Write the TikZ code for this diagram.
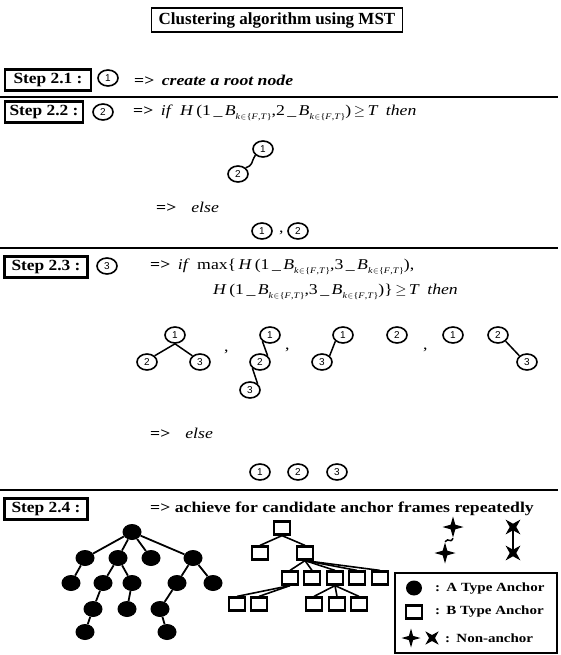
\documentclass[tikz,border=0pt]{standalone}
\usepackage{fontspec}
\setmainfont{Liberation Serif}
\setsansfont{Liberation Sans}
\usetikzlibrary{shapes.geometric}

% widened type, as in the printed figure
\newcommand{\wide}{\addfontfeature{FakeStretch=1.18}}
% B with its k in {F,T} subscript
\newcommand{\Bkft}{\textit{B}\raisebox{-0.6ex}{\fontsize{8.5}{9}\selectfont\textit{k}\kern0.4pt$\in$\kern0.4pt\{\textit{F}\kern0.3pt,\textit{T}\}}}

\begin{document}
\begin{tikzpicture}[x=1pt,y=-1pt,
  titlebox/.style={draw, line width=1.6pt, inner xsep=7pt, minimum height=24pt,
    font=\fontsize{17}{19}\selectfont\bfseries},
  stepbox/.style={draw, line width=2.3pt, minimum height=21pt, minimum width=83pt, inner xsep=3pt,
    font=\fontsize{15.5}{17}\selectfont\bfseries\addfontfeature{FakeStretch=1.12}},
  cnum/.style={ellipse, draw, line width=1.6pt, minimum width=20pt, minimum height=16pt,
    inner sep=0pt, font=\sffamily\fontsize{10}{10}\selectfont},
  say/.style={anchor=west, inner sep=0pt, font=\fontsize{15}{17}\selectfont\wide},
  sep/.style={line width=1.7pt},
  link/.style={line width=1.5pt},
  anchA/.style={ellipse, fill=black, minimum width=19pt, minimum height=16pt, inner sep=0pt},
  anchB/.style={rectangle, draw, line width=2.2pt, minimum width=16pt, minimum height=13pt, inner sep=0pt},
  nonA/.style={star, star points=4, star point ratio=3.2, fill=black, minimum size=21pt, inner sep=0pt},
  nonX/.style={nonA, shape border rotate=45},
  legtext/.style={anchor=west, inner sep=0pt, font=\fontsize{12.5}{14}\selectfont\bfseries\addfontfeature{FakeStretch=1.2}}
]
\useasboundingbox (0,0) rectangle (560,655);

% heading
\node[titlebox] (title) at (277,20) {Clustering algorithm using MST};

% separating rules
\coordinate (l1a) at (0,97);  \coordinate (l1b) at (558,97);
\coordinate (l2a) at (0,248); \coordinate (l2b) at (558,248);
\coordinate (l3a) at (0,490); \coordinate (l3b) at (558,490);
\draw[sep] (l1a) -- (l1b);
\draw[sep] (l2a) -- (l2b);
\draw[sep] (l3a) -- (l3b);

% ---- Step 2.1
\node[stepbox, minimum width=86pt] (s21) at (48,80) {Step 2.1 :};
\node[cnum] (r1) at (108,78) {1};
\node[say] (t21) at (134,80) {\bfseries=>\enspace\textit{create a root node}};

% ---- Step 2.2
\node[stepbox, minimum width=78pt] (s22) at (44,112) {Step 2.2 :};
\node[cnum] (r2) at (103,112) {2};
\node[say] (t22) at (133,113) {\bfseries=>\enspace\mdseries\textit{if}\enspace
  \textit{H}\,(1\,\_\,\Bkft,2\,\_\,\Bkft)\,$\geq$\,\textit{T}\enspace\textit{then}};
\node[cnum] (p1) at (263,149) {1};
\node[cnum] (p2) at (238,174) {2};
\draw[link] (p1.south west) .. controls +(-5,8) and +(8,-3) .. (p2.north east);
\node[say] (e22) at (156,207) {\bfseries=>\quad\mdseries\textit{else}};
\node[cnum] (q1) at (262,231) {1};
\node[say] (qc) at (279,233) {,};
\node[cnum] (q2) at (298,231) {2};

% ---- Step 2.3
\node[stepbox] (s23) at (46,267) {Step 2.3 :};
\node[cnum] (r3) at (107,266) {3};
\node[say] (t23a) at (150,267) {\bfseries=>\enspace\mdseries\textit{if}\enspace max\{\,\textit{H}\,(1\,\_\,\Bkft,3\,\_\,\Bkft),};
\node[say] (t23b) at (213,292) {\textit{H}\,(1\,\_\,\Bkft,3\,\_\,\Bkft)\}\,$\geq$\,\textit{T}\enspace\textit{then}};

\node[cnum] (u1) at (175,335) {1};
\node[cnum] (u2) at (147,362) {2};
\node[cnum] (u3) at (200,362) {3};
\draw[link] (u1.south) -- (u2.north east);
\draw[link] (u1.south) -- (u3.north west);
\node[say] (uc) at (224,352) {,};

\node[cnum] (v1) at (270,335) {1};
\node[cnum] (v2) at (260,362) {2};
\node[cnum] (v3) at (250,390) {3};
\draw[link] (v1.south west) -- (v2.north east);
\draw[link] (v2.south west) -- (v3.north east);
\node[say] (vc) at (285,350) {,};

\node[cnum] (w1) at (343,335) {1};
\node[cnum] (w3) at (322,362) {3};
\node[cnum] (w2) at (397,335) {2};
\draw[link] (w1.south west) -- (w3.north east);
\node[say] (wc) at (423,350) {,};

\node[cnum] (x1) at (453,335) {1};
\node[cnum] (x2) at (498,335) {2};
\node[cnum] (x3) at (527,362) {3};
\draw[link] (x2.south east) -- (x3.north west);

\node[say] (e23) at (150,433) {\bfseries=>\quad\mdseries\textit{else}};
\node[cnum] (y1) at (260,472) {1};
\node[cnum] (y2) at (298,472) {2};
\node[cnum] (y3) at (337,472) {3};

% ---- Step 2.4
\node[stepbox] (s24) at (46,509) {Step 2.4 :};
\node[say] (t24) at (150,509) {\bfseries=> achieve for candidate anchor frames repeatedly};

% tree of A type anchors
\node[anchA] (a0) at (132,532) {};
\node[anchA] (a1) at (85,558) {};
\node[anchA] (a2) at (118,558) {};
\node[anchA] (a3) at (151,558) {};
\node[anchA] (a4) at (193,558) {};
\node[anchA] (a5) at (71,583) {};
\node[anchA] (a6) at (103,583) {};
\node[anchA] (a7) at (132,583) {};
\node[anchA] (a8) at (177,583) {};
\node[anchA] (a9) at (213,583) {};
\node[anchA] (a10) at (93,609) {};
\node[anchA] (a11) at (127,609) {};
\node[anchA] (a12) at (160,609) {};
\node[anchA] (a13) at (85,632) {};
\node[anchA] (a14) at (167,632) {};
\foreach \p/\c in {a0/a1,a0/a2,a0/a3,a0/a4,a1/a5,a2/a6,a2/a7,a4/a8,a4/a9,
                   a6/a10,a10/a13,a7/a11,a8/a12,a12/a14}
  \draw[link, line width=1.8pt] (\p) -- (\c);

% tree of B type anchors
\node[anchB] (b0) at (282,528) {};
\node[anchB] (b1) at (260,553) {};
\node[anchB] (b2) at (305,553) {};
\node[anchB] (b3) at (290,578) {};
\node[anchB] (b4) at (312,578) {};
\node[anchB] (b5) at (335,578) {};
\node[anchB] (b6) at (357,578) {};
\node[anchB] (b7) at (380,578) {};
\node[anchB] (b8) at (237,604) {};
\node[anchB] (b9) at (259,604) {};
\node[anchB] (b10) at (314,604) {};
\node[anchB] (b11) at (337,604) {};
\node[anchB] (b12) at (359,604) {};
\foreach \p/\c in {b0/b1,b0/b2,b2/b3,b2/b4,b2/b5,b2/b6,b2/b7,b3/b8,b3/b9,b5/b10,b5/b11,b5/b12}
  \draw[link, line width=1.6pt] (\p.south) -- (\c.north);

% non-anchor pairs
\node[nonA] (n1) at (453,527) {};
\node[nonA] (n2) at (445,553) {};
\draw[link] (n1.south) .. controls +(-3,6) and +(4,-5) .. (n2.north);
\node[nonX] (m1) at (513,527) {};
\node[nonX] (m2) at (513,553) {};
\draw[link] (m1.center) -- (m2.center);

% legend
\coordinate (lg1) at (395,573);
\coordinate (lg2) at (557,653);
\draw[line width=1.8pt] (lg1) rectangle (lg2);
\node[anchA, minimum width=16pt, minimum height=15pt] (ka) at (414,588) {};
\node[legtext] (kat) at (435,589) {:\enspace A Type Anchor};
\node[anchB] (kb) at (414,612) {};
\node[legtext] (kbt) at (435,612) {:\enspace B Type Anchor};
\node[nonA, minimum size=19pt] (kn) at (411,638) {};
\node[nonX, minimum size=19pt] (kx) at (432,638) {};
\node[legtext] (knt) at (445,638) {:\enspace Non-anchor};
\end{tikzpicture}
\end{document}
